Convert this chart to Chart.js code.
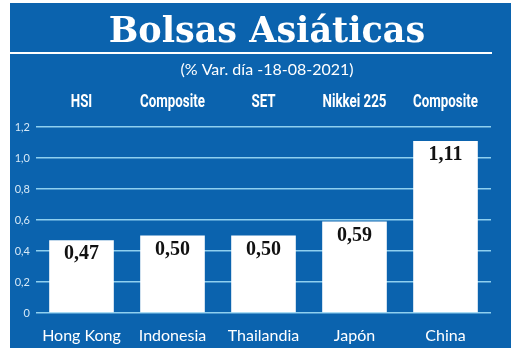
<!DOCTYPE html>
<html>
<head>
<meta charset="utf-8">
<script src="https://cdn.jsdelivr.net/npm/chart.js@4.4.1/dist/chart.umd.min.js"></script>
<style>
  html, body { margin: 0; padding: 0; background: #ffffff; }
  #wrap { width: 520px; height: 353px; }
</style>
</head>
<body>
<div id="wrap"><canvas id="c" width="520" height="353"></canvas></div>
<script>
const titleText = 'Bolsas Asiáticas';
const subtitleText = '(% Var. día -18-08-2021)';
const categories = ['Hong Kong', 'Indonesia', 'Thailandia', 'Japón', 'China'];
const indexNames = ['HSI', 'Composite', 'SET', 'Nikkei 225', 'Composite'];
const values = [0.47, 0.50, 0.50, 0.59, 1.11];
const valueLabels = ['0,47', '0,50', '0,50', '0,59', '1,11'];
const yTickLabels = ['0', '0,2', '0,4', '0,6', '0,8', '1,0', '1,2'];

const BLUE = '#0b63ae';
const GRID = '#8fd0ef';

const panelPlugin = {
  id: 'panel',
  beforeDraw(chart) {
    const ctx = chart.ctx;
    ctx.save();
    ctx.fillStyle = '#ffffff';
    ctx.fillRect(0, 0, chart.width, chart.height);
    ctx.fillStyle = BLUE;
    ctx.fillRect(10, 3, 501, 345);
    ctx.restore();
  },
  afterDraw(chart) {
    const ctx = chart.ctx;
    ctx.save();
    ctx.strokeStyle = '#ffffff';
    ctx.lineWidth = 2;
    ctx.beginPath();
    ctx.moveTo(10, 53);
    ctx.lineTo(492, 53);
    ctx.stroke();
    ctx.restore();
  }
};

const headerPlugin = {
  id: 'headers',
  afterDraw(chart) {
    const ctx = chart.ctx;
    const xs = chart.scales.x;
    const baseY = chart.chartArea.top - 20;
    ctx.save();
    ctx.font = 'bold 18px Roboto';
    ctx.fillStyle = '#ffffff';
    ctx.textAlign = 'center';
    ctx.textBaseline = 'alphabetic';
    indexNames.forEach((t, i) => {
      ctx.save();
      ctx.translate(xs.getPixelForValue(i), baseY);
      ctx.scale(0.74, 1);
      ctx.fillText(t, 0, 0);
      ctx.restore();
    });
    ctx.restore();
  }
};

const valuePlugin = {
  id: 'values',
  afterDatasetsDraw(chart) {
    const ctx = chart.ctx;
    const meta = chart.getDatasetMeta(0);
    ctx.save();
    ctx.font = 'bold 20px "Liberation Serif", serif';
    ctx.fillStyle = '#111111';
    ctx.textAlign = 'center';
    ctx.textBaseline = 'alphabetic';
    meta.data.forEach((bar, i) => {
      ctx.fillText(valueLabels[i], bar.x, bar.y + 19);
    });
    ctx.restore();
  }
};

new Chart(document.getElementById('c'), {
  type: 'bar',
  data: {
    labels: categories,
    datasets: [{
      data: values,
      backgroundColor: '#ffffff',
      borderWidth: 0,
      categoryPercentage: 1,
      barPercentage: 0.71
    }]
  },
  options: {
    responsive: false,
    animation: false,
    devicePixelRatio: 1,
    layout: { padding: { left: 14, right: 0, top: 0, bottom: 0 } },
    plugins: {
      legend: { display: false },
      tooltip: { enabled: false },
      title: {
        display: true,
        text: titleText,
        color: '#ffffff',
        font: { family: '"DejaVu Serif"', size: 35, weight: 'bold', lineHeight: 1 },
        padding: { top: 15, bottom: 0 }
      },
      subtitle: {
        display: true,
        text: subtitleText,
        color: '#ffffff',
        font: { family: 'Lato', size: 16, weight: 'normal', lineHeight: 1 },
        padding: { top: 12, bottom: 49 }
      }
    },
    scales: {
      x: {
        type: 'category',
        position: 'bottom',
        grid: { display: false },
        border: { display: false },
        ticks: { color: '#ffffff', font: { family: 'Lato', size: 16 }, padding: 5, maxRotation: 0, autoSkip: false },
        afterFit(s) { s.height = 40; }
      },
      y: {
        min: 0,
        max: 1.2,
        position: 'left',
        grid: { color: GRID, lineWidth: 1.5, drawTicks: false },
        border: { display: false },
        ticks: {
          stepSize: 0.2,
          color: '#d6e9f7',
          font: { family: 'Lato', size: 11 },
          padding: 6,
          callback: (v, i) => yTickLabels[i]
        },
        afterFit(s) { s.width = 22; }
      },
      y2: {
        type: 'linear',
        position: 'right',
        min: 0,
        max: 1.2,
        grid: { display: false },
        border: { display: false },
        ticks: { display: false },
        afterFit(s) { s.width = 29; }
      }
    }
  },
  plugins: [panelPlugin, headerPlugin, valuePlugin]
});
</script>
</body>
</html>
